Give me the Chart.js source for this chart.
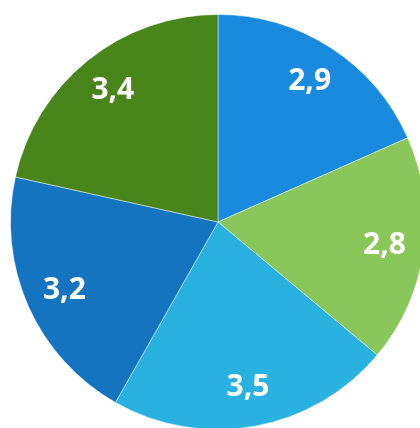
<!DOCTYPE html>
<html>
<head>
<meta charset="utf-8">
<script src="https://cdn.jsdelivr.net/npm/chart.js@4"></script>
<style>
  html, body { margin: 0; padding: 0; background: #fff; overflow: hidden; }
  #wrap { position: absolute; left: 0; top: 0; width: 436px; height: 444px; }
</style>
</head>
<body>
<div id="wrap"><canvas id="pieChart"></canvas></div>
<script>
const labels = ["A", "B", "C", "D", "E"];
const values = [2.9, 2.8, 3.5, 3.2, 3.4];
const valueLabels = ["2,9", "2,8", "3,5", "3,2", "3,4"];
const colors = ["#198ade", "#8ac75a", "#29b2e0", "#1474c0", "#48861c"];

// draw the value text inside each slice
const sliceLabels = {
  id: "sliceLabels",
  afterDatasetsDraw(chart) {
    const ctx = chart.ctx;
    const meta = chart.getDatasetMeta(0);
    ctx.save();
    ctx.fillStyle = "#ffffff";
    ctx.font = "bold 30px 'Open Sans', sans-serif";
    ctx.textAlign = "center";
    ctx.textBaseline = "middle";
    meta.data.forEach((arc, i) => {
      const p = arc.getProps(["x", "y", "startAngle", "endAngle", "outerRadius"], true);
      const mid = (p.startAngle + p.endAngle) / 2;
      const r = p.outerRadius * 0.81;
      ctx.fillText(valueLabels[i], p.x + Math.cos(mid) * r, p.y + Math.sin(mid) * r);
    });
    ctx.restore();
  }
};

new Chart(document.getElementById("pieChart"), {
  type: "pie",
  data: {
    labels,
    datasets: [{
      data: values,
      backgroundColor: colors,
      borderColor: "rgba(255,255,255,0.45)",
      borderWidth: 1
    }]
  },
  options: {
    responsive: true,
    maintainAspectRatio: false,
    animation: false,
    layout: { padding: { left: 10, right: 10, top: 14, bottom: 14 } },
    plugins: {
      legend: { display: false },
      tooltip: { enabled: false }
    }
  },
  plugins: [sliceLabels]
});
</script>
</body>
</html>
